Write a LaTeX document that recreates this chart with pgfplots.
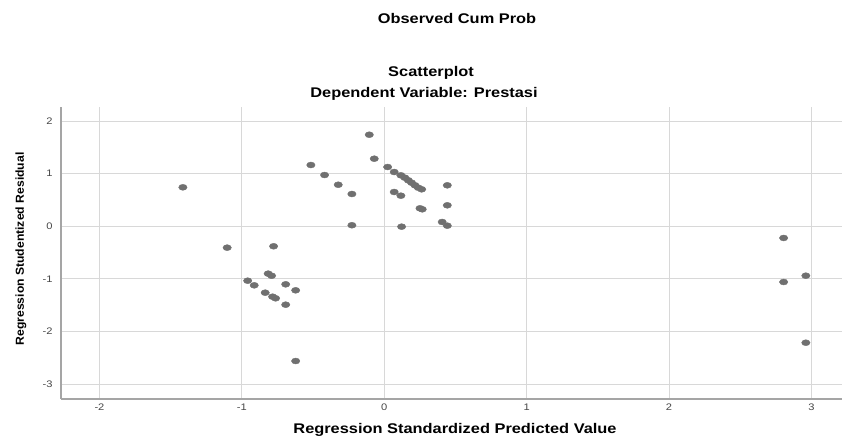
\documentclass[border=0pt]{standalone}
\usepackage{pgfplots}
\pgfplotsset{compat=1.18}
\usepackage{fontspec}
\setmainfont{Liberation Sans}
\newfontfamily\wfont[FakeStretch=1.17]{Liberation Sans}
\newfontfamily\yfont[FakeStretch=1.05]{Liberation Sans}
\definecolor{dotc}{RGB}{112,112,112}
\definecolor{gridc}{RGB}{216,216,216}
\definecolor{axc}{RGB}{165,165,165}
\definecolor{tickc}{RGB}{70,70,70}
\begin{document}
\begin{tikzpicture}[x=1pt,y=1pt]
\useasboundingbox (0,0) rectangle (842,438);
\begin{axis}[at={(61pt,39pt)}, anchor=south west, scale only axis,
  width=781pt, height=292pt,
  xmin=-2.27, xmax=3.215, ymin=-3.283, ymax=2.268,
  axis x line*=bottom, axis y line*=left,
  axis line style={axc, line width=1.3pt},
  xtick={-2,-1,0,1,2,3}, ytick={-3,-2,-1,0,1,2},
  grid=major, grid style={gridc, line width=1pt},
  major tick length=0pt,
  /pgf/number format/assume math mode=true,
  tick label style={font=\wfont\fontsize{9.5}{11}\selectfont, text=tickc},
  xticklabel style={yshift=-1pt},
  yticklabel style={xshift=-5pt},
  clip=false]
\addplot[only marks, mark=*, mark size=3pt, mark options={xscale=1.4, fill=dotc, draw=dotc}] coordinates {
(-1.414,0.741) (-1.103,-0.406) (-0.959,-1.034) (-0.913,-1.122) (-0.836,-1.262)
(-0.815,-0.90) (-0.791,-0.94) (-0.777,-0.38) (-0.784,-1.338) (-0.763,-1.369)
(-0.692,-1.103) (-0.692,-1.49) (-0.622,-1.217) (-0.622,-2.561)
(-0.515,1.165) (-0.419,0.975) (-0.323,0.79) (-0.227,0.614) (-0.227,0.02)
(-0.105,1.741) (-0.070,1.285) (0.024,1.127) (0.070,1.032) (0.117,0.969)
(0.145,0.924) (0.169,0.874) (0.192,0.829) (0.216,0.779) (0.239,0.734) (0.263,0.703)
(0.070,0.652) (0.117,0.582) (0.251,0.342) (0.267,0.323)
(0.443,0.779) (0.443,0.399) (0.407,0.082) (0.443,0.012) (0.122,-0.007)
(2.805,-0.222) (2.805,-1.059) (2.961,-0.939) (2.961,-2.213)
};
\end{axis}
\node[font=\wfont\bfseries\fontsize{14}{16}\selectfont] at (457,419) {Observed Cum Prob};
\node[font=\wfont\bfseries\fontsize{14}{16}\selectfont] at (431,365) {Scatterplot};
\node[font=\wfont\bfseries\fontsize{14}{16}\selectfont] at (424,344) {Dependent Variable: Prestasi};
\node[font=\wfont\bfseries\fontsize{14}{16}\selectfont] at (455,8) {Regression Standardized Predicted Value};
\node[font=\yfont\bfseries\fontsize{11.6}{14}\selectfont, rotate=90] at (21,189) {Regression Studentized Residual};
\end{tikzpicture}
\end{document}
